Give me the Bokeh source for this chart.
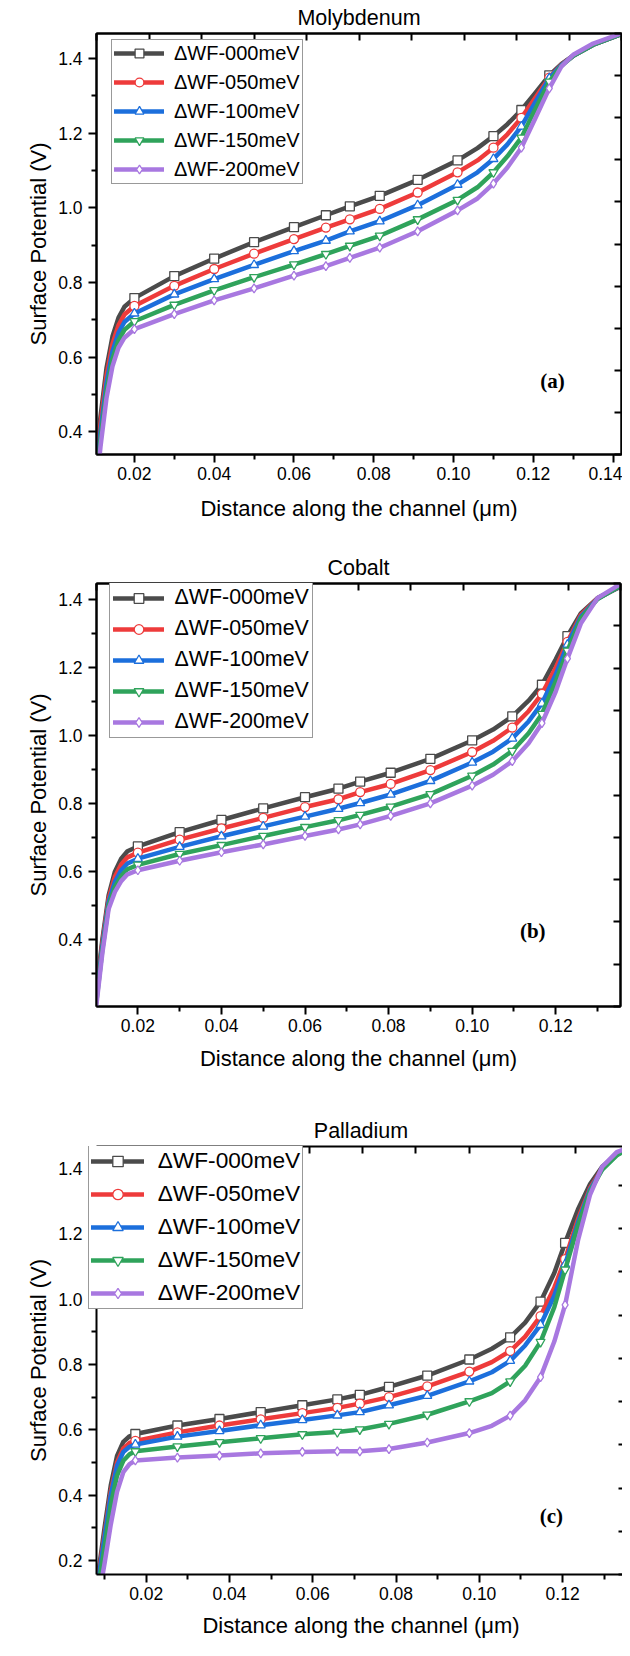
from bokeh.plotting import figure
from bokeh.models import (Range1d, LinearAxis, FixedTicker, SingleIntervalTicker,
                          Legend, LegendItem, Label, NumeralTickFormatter)
from bokeh.layouts import column
from bokeh.embed import file_html
from bokeh.resources import INLINE

series_labels = ["\u0394WF-000meV", "\u0394WF-050meV", "\u0394WF-100meV", "\u0394WF-150meV", "\u0394WF-200meV"]
series_colors = ["#4b4b4b", "#ee3b3b", "#1c6fdc", "#2fa35b", "#a878e0"]
series_markers = ["square", "circle", "triangle", "inverted_triangle", "diamond"]

# ---------------- Panel (a) Molybdenum ----------------
x_a = [0.0100, 0.0115, 0.0130, 0.0145, 0.0160, 0.0175, 0.0200, 0.0300, 0.0400, 0.0500, 0.0600, 0.0680, 0.0740,
       0.0815, 0.0910, 0.1010, 0.1060, 0.1100, 0.1135, 0.1170, 0.1205, 0.1240, 0.1270, 0.1300, 0.1350, 0.1420]
marks_a = [0.0200, 0.0300, 0.0400, 0.0500, 0.0600, 0.0680, 0.0740, 0.0815, 0.0910, 0.1010, 0.1100, 0.1170, 0.1240]
y_a_000 = [0.28, 0.44, 0.57, 0.655, 0.705, 0.735, 0.758, 0.817, 0.864, 0.908, 0.948, 0.980, 1.004,
           1.032, 1.075, 1.127, 1.160, 1.192, 1.224, 1.262, 1.308, 1.355, 1.385, 1.408, 1.437, 1.465]
y_a_050 = [0.26, 0.42, 0.55, 0.635, 0.685, 0.714, 0.737, 0.791, 0.836, 0.877, 0.916, 0.947, 0.969,
           0.997, 1.041, 1.095, 1.127, 1.161, 1.197, 1.241, 1.295, 1.349, 1.383, 1.407, 1.437, 1.465]
y_a_100 = [0.24, 0.40, 0.53, 0.615, 0.665, 0.694, 0.717, 0.768, 0.809, 0.847, 0.884, 0.912, 0.937,
           0.964, 1.007, 1.062, 1.095, 1.131, 1.170, 1.218, 1.283, 1.347, 1.382, 1.407, 1.437, 1.465]
y_a_150 = [0.22, 0.38, 0.51, 0.595, 0.645, 0.673, 0.696, 0.740, 0.779, 0.814, 0.848, 0.876, 0.898,
           0.925, 0.969, 1.021, 1.055, 1.095, 1.138, 1.188, 1.265, 1.338, 1.380, 1.407, 1.437, 1.465]
y_a_200 = [0.20, 0.36, 0.49, 0.575, 0.625, 0.652, 0.675, 0.715, 0.752, 0.784, 0.818, 0.844, 0.866,
           0.893, 0.937, 0.993, 1.025, 1.065, 1.108, 1.161, 1.240, 1.320, 1.378, 1.410, 1.440, 1.467]
xticks_a = [0.02, 0.04, 0.06, 0.08, 0.10, 0.12, 0.14]
xminor_a = [0.03, 0.05, 0.07, 0.09, 0.11, 0.13]
yticks_a = [0.4, 0.6, 0.8, 1.0, 1.2, 1.4]
yminor_a = [0.5, 0.7, 0.9, 1.1, 1.3]

# ---------------- Panel (b) Cobalt ----------------
x_b = [0.0100, 0.0115, 0.0130, 0.0145, 0.0160, 0.0175, 0.0200, 0.0300, 0.0400, 0.0500, 0.0600, 0.0680, 0.0732,
       0.0805, 0.0900, 0.1000, 0.1050, 0.1096, 0.1135, 0.1167, 0.1200, 0.1228, 0.1260, 0.1300, 0.1357]
marks_b = [0.0200, 0.0300, 0.0400, 0.0500, 0.0600, 0.0680, 0.0732, 0.0805, 0.0900, 0.1000, 0.1096, 0.1167, 0.1228]
y_b_000 = [0.24, 0.40, 0.53, 0.600, 0.638, 0.660, 0.674, 0.716, 0.752, 0.786, 0.819, 0.844, 0.865,
           0.891, 0.932, 0.986, 1.018, 1.057, 1.103, 1.150, 1.225, 1.293, 1.360, 1.405, 1.440]
y_b_050 = [0.23, 0.39, 0.52, 0.585, 0.621, 0.642, 0.656, 0.694, 0.727, 0.758, 0.790, 0.813, 0.834,
           0.858, 0.899, 0.952, 0.985, 1.024, 1.072, 1.123, 1.200, 1.276, 1.355, 1.404, 1.441]
y_b_100 = [0.22, 0.38, 0.51, 0.570, 0.604, 0.624, 0.638, 0.673, 0.704, 0.733, 0.762, 0.785, 0.802,
           0.827, 0.867, 0.921, 0.953, 0.992, 1.042, 1.095, 1.180, 1.268, 1.350, 1.403, 1.442]
y_b_150 = [0.21, 0.37, 0.50, 0.555, 0.587, 0.607, 0.620, 0.652, 0.678, 0.705, 0.731, 0.751, 0.767,
           0.791, 0.828, 0.882, 0.915, 0.955, 1.007, 1.064, 1.160, 1.250, 1.345, 1.402, 1.443]
y_b_200 = [0.20, 0.36, 0.49, 0.540, 0.572, 0.592, 0.604, 0.632, 0.657, 0.680, 0.705, 0.724, 0.739,
           0.764, 0.801, 0.853, 0.885, 0.925, 0.978, 1.037, 1.130, 1.227, 1.330, 1.405, 1.448]
xticks_b = [0.02, 0.04, 0.06, 0.08, 0.10, 0.12]
xminor_b = [0.03, 0.05, 0.07, 0.09, 0.11, 0.13]
yticks_b = [0.4, 0.6, 0.8, 1.0, 1.2, 1.4]
yminor_b = [0.3, 0.5, 0.7, 0.9, 1.1, 1.3]

# ---------------- Panel (c) Palladium ----------------
x_c = [0.0085, 0.0100, 0.0115, 0.0130, 0.0145, 0.0160, 0.0174, 0.0275, 0.0376, 0.0475, 0.0575, 0.0659, 0.0713,
       0.0783, 0.0875, 0.0976, 0.1030, 0.1074, 0.1110, 0.1147, 0.1180, 0.1206, 0.1237, 0.1266, 0.1295, 0.1330, 0.1355]
marks_c = [0.0174, 0.0275, 0.0376, 0.0475, 0.0575, 0.0659, 0.0713, 0.0783, 0.0875, 0.0976, 0.1074, 0.1147, 0.1206]
y_c_000 = [0.16, 0.30, 0.43, 0.52, 0.563, 0.580, 0.587, 0.613, 0.633, 0.654, 0.675, 0.693, 0.707,
           0.731, 0.766, 0.815, 0.848, 0.883, 0.928, 0.992, 1.080, 1.172, 1.275, 1.352, 1.405, 1.443, 1.460]
y_c_050 = [0.15, 0.28, 0.41, 0.50, 0.543, 0.560, 0.566, 0.592, 0.613, 0.632, 0.651, 0.667, 0.680,
           0.700, 0.733, 0.778, 0.807, 0.841, 0.885, 0.948, 1.035, 1.122, 1.245, 1.340, 1.400, 1.442, 1.460]
y_c_100 = [0.14, 0.27, 0.40, 0.49, 0.532, 0.548, 0.555, 0.579, 0.596, 0.614, 0.630, 0.644, 0.654,
           0.675, 0.704, 0.748, 0.776, 0.811, 0.858, 0.921, 1.010, 1.106, 1.235, 1.335, 1.398, 1.442, 1.460]
y_c_150 = [0.12, 0.24, 0.37, 0.46, 0.505, 0.525, 0.534, 0.549, 0.562, 0.574, 0.586, 0.593, 0.601,
           0.618, 0.646, 0.687, 0.712, 0.748, 0.796, 0.869, 0.975, 1.090, 1.225, 1.330, 1.396, 1.440, 1.458]
y_c_200 = [0.08, 0.19, 0.31, 0.41, 0.470, 0.495, 0.506, 0.515, 0.521, 0.528, 0.532, 0.534, 0.534,
           0.541, 0.561, 0.590, 0.612, 0.643, 0.690, 0.761, 0.870, 0.982, 1.180, 1.320, 1.405, 1.450, 1.462]
xticks_c = [0.02, 0.04, 0.06, 0.08, 0.10, 0.12]
xminor_c = [0.01, 0.03, 0.05, 0.07, 0.09, 0.11, 0.13]
yticks_c = [0.2, 0.4, 0.6, 0.8, 1.0, 1.2, 1.4]
yminor_c = [0.3, 0.5, 0.7, 0.9, 1.1, 1.3]

FONT = "Liberation Sans"


def make_panel(title, x, marks, ys, xr, yr, xt, xm, yt, ym, tag, tag_xy, g, lg):
    p = figure(frame_width=g["fw"], frame_height=g["fh"],
               min_border_left=g["l"], min_border_right=g["r"],
               min_border_top=g["t"], min_border_bottom=g["b"],
               x_range=Range1d(*xr), y_range=Range1d(*yr),
               output_backend="svg", toolbar_location=None,
               background_fill_color="white", border_fill_color="white")
    p.xgrid.visible = False
    p.ygrid.visible = False
    outline = g.get("outline", True)
    p.outline_line_color = "black" if outline else None
    p.outline_line_width = 2

    p.title.text = title
    p.title.align = "center"
    p.title.text_font = FONT
    p.title.text_font_size = "21.5px"
    p.title.text_font_style = "normal"
    p.title.text_color = "black"
    p.title.standoff = 7

    for ax, ticks, minor, fmt, lab in [(p.xaxis[0], xt, xm, "0.00", "Distance along the channel (\u03bcm)"),
                                       (p.yaxis[0], yt, ym, "0.0", "Surface Potential (V)")]:
        ax.ticker = FixedTicker(ticks=ticks, minor_ticks=minor)
        ax.formatter = NumeralTickFormatter(format=fmt)
        ax.axis_label = lab
        ax.axis_label_text_font = FONT
        ax.axis_label_text_font_size = "22px"
        ax.axis_label_text_font_style = "normal"
        ax.axis_label_text_color = "black"
        ax.major_label_text_font = FONT
        ax.major_label_text_font_size = "17.5px"
        ax.major_label_text_color = "black"
        ax.axis_line_width = 2
        ax.axis_line_color = "black"
        ax.major_tick_line_width = 2
        ax.minor_tick_line_width = 2
        ax.major_tick_line_color = "black"
        ax.minor_tick_line_color = "black"
        ax.major_tick_out = 8
        ax.major_tick_in = 0
        ax.minor_tick_out = 5
        ax.minor_tick_in = 0
    p.xaxis[0].major_label_standoff = 4
    p.xaxis[0].axis_label_standoff = g["xls"]
    p.yaxis[0].major_label_standoff = 6
    p.yaxis[0].axis_label_standoff = 4

    # unlabelled mirror axes on top and right with inward ticks
    p.extra_x_ranges = {"top": Range1d(0, g["top_div"])}
    p.extra_y_ranges = {"right": Range1d(0, g["right_div"])}
    top = LinearAxis(x_range_name="top", ticker=SingleIntervalTicker(interval=1, num_minor_ticks=0))
    right = LinearAxis(y_range_name="right", ticker=SingleIntervalTicker(interval=1, num_minor_ticks=0))
    for ax in (top, right):
        ax.major_tick_in = 7
        ax.major_tick_out = 0
        ax.minor_tick_in = 0
        ax.minor_tick_out = 0
        ax.major_tick_line_width = 2
        ax.major_tick_line_color = "black"
        ax.major_label_text_color = None
        ax.major_label_text_font_size = "1px"
        ax.major_label_standoff = 0
        ax.axis_line_width = 2
        ax.axis_line_color = "black"
    if not outline:
        right.axis_line_color = None
    p.add_layout(top, "above")
    p.add_layout(right, "right")

    idx = [x.index(v) for v in marks]
    items = []
    for y, lab, col, mk in zip(ys, series_labels, series_colors, series_markers):
        lr = p.line(x, y, line_color=col, line_width=4.5, line_join="round", line_cap="round")
        sr = p.scatter([x[i] for i in idx], [y[i] for i in idx], marker=mk, size=9,
                       fill_color="white", line_color=col, line_width=1.3)
        items.append(LegendItem(label=lab, renderers=[lr, sr]))

    leg_h = 2 * lg["pad"] + 5 * lg["gh"] + 4 * lg["sp"]
    legend = Legend(items=items, location=(lg["x"], g["fh"] - lg["top"] - leg_h),
                    padding=lg["pad"], spacing=lg["sp"], margin=0,
                    glyph_width=lg["gw"], glyph_height=lg["gh"], label_height=lg["gh"],
                    label_standoff=lg["st"], label_text_font=FONT, label_text_font_size=lg["fs"],
                    label_text_color="black", border_line_color="#333333", border_line_width=1.5,
                    background_fill_color="white", background_fill_alpha=1.0)
    p.add_layout(legend)

    p.add_layout(Label(x=tag_xy[0], y=tag_xy[1], text=tag, text_font="Liberation Serif",
                       text_font_style="bold", text_font_size="21px", text_color="black",
                       text_align="center", text_baseline="middle"))
    return p


pa = make_panel("Molybdenum", x_a, marks_a, [y_a_000, y_a_050, y_a_100, y_a_150, y_a_200],
                (0.0105, 0.1421), (0.339, 1.467), xticks_a, xminor_a, yticks_a, yminor_a,
                "(a)", (0.1248, 0.536),
                dict(fw=525, fh=421, l=73, r=24, t=31, b=85, xls=13, top_div=10, right_div=10),
                dict(pad=2, gw=50, gh=22, sp=6, st=10, fs="20px", x=15, top=12.5))

pb = make_panel("Cobalt", x_b, marks_b, [y_b_000, y_b_050, y_b_100, y_b_150, y_b_200],
                (0.0101, 0.1355), (0.203, 1.448), xticks_b, xminor_b, yticks_b, yminor_b,
                "(b)", (0.1145, 0.425),
                dict(fw=524, fh=423, l=96, r=2, t=44, b=93, xls=11, top_div=10, right_div=10),
                dict(pad=3, gw=51, gh=24, sp=6, st=11, fs="21.4px", x=12.5, top=5))

pc = make_panel("Palladium", x_c, marks_c, [y_c_000, y_c_050, y_c_100, y_c_150, y_c_200],
                (0.00807, 0.1351), (0.157, 1.467), xticks_c, xminor_c, yticks_c, yminor_c,
                "(c)", (0.1173, 0.335),
                dict(fw=529, fh=428, l=93, r=0, t=47, b=68, xls=10, top_div=9.94, right_div=9.9,
                     outline=False),
                dict(pad=2, gw=53, gh=26, sp=6, st=14, fs="22.7px", x=8, top=5))

layout = column(pa, pb, pc)
open("out.html", "w").write(file_html(layout, INLINE))
